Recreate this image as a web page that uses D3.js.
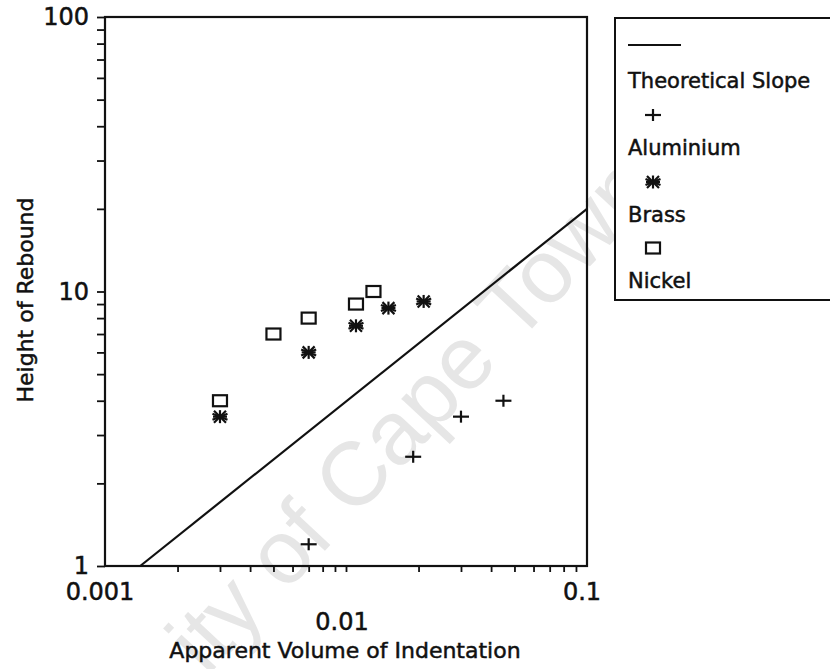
<!DOCTYPE html>
<html>
<head>
<meta charset="utf-8">
<script src="https://cdn.jsdelivr.net/npm/d3@7"></script>
<style>
  body { margin: 0; background: #fff; }
  svg { display: block; font-family: "DejaVu Sans", sans-serif; }
  .ink { fill: #111; stroke: #111; stroke-width: 0.5px; }
</style>
</head>
<body>
<div id="chart"></div>
<script>
// values
const alumX = [0.007, 0.019, 0.030, 0.045];
const alumY = [1.2, 2.5, 3.5, 4.0];
const brassX = [0.003, 0.007, 0.011, 0.015, 0.021];
const brassY = [3.5, 6.0, 7.5, 8.7, 9.2];
const nickelX = [0.003, 0.005, 0.007, 0.011, 0.013];
const nickelY = [4.0, 7.0, 8.0, 9.0, 10.0];
const slopeX = [0.0014, 0.1];
const slopeY = [1, 20];
const xTickLabels = ['0.001', '0.01', '0.1'];
const yTickLabels = ['1', '10', '100'];
const legendNames = ['Theoretical Slope', 'Aluminium', 'Brass', 'Nickel'];

const W = 830, H = 669;
const marginLeft = 105, marginTop = 17, plotW = 482, plotH = 549;

const svg = d3.select('#chart').append('svg')
  .attr('width', W).attr('height', H);

// faint scan watermark (only the part that shows on the page)
const wmText = 'ity of Cape Town';
const wmSize = 90, wmAngle = -47;
const wm = svg.append('g');
const wmNode = wm.append('text')
  .style('font-family', '"Liberation Sans", Arial, sans-serif')
  .style('font-size', wmSize + 'px')
  .attr('fill', '#e6e6e6')
  .text(wmText).node();
{
  // put the centre of the "C" of Cape where the scan shows it
  const iC = wmText.indexOf('C');
  const cx = (wmNode.getStartPositionOfChar(iC).x + wmNode.getEndPositionOfChar(iC).x) / 2;
  const cy = -0.36 * wmSize;
  const a = wmAngle * Math.PI / 180;
  const rx = cx * Math.cos(a) - cy * Math.sin(a);
  const ry = cx * Math.sin(a) + cy * Math.cos(a);
  wm.attr('transform', `translate(${352 - rx},${474 - ry}) rotate(${wmAngle})`);
}

const x = d3.scaleLog().domain([0.001, 0.1]).range([0, plotW]);
const y = d3.scaleLog().domain([1, 100]).range([plotH, 0]);

const g = svg.append('g').attr('transform', `translate(${marginLeft},${marginTop})`);

// minor ticks
const xMinor = [], yMinor = [];
[0.001, 0.01].forEach(d => { for (let k = 2; k <= 9; k++) xMinor.push(d * k); });
[1, 10].forEach(d => { for (let k = 2; k <= 9; k++) yMinor.push(d * k); });

const xAxis = g.append('g').attr('transform', `translate(0,${plotH})`)
  .call(d3.axisBottom(x).tickValues(xMinor.concat([0.01])).tickSize(6).tickFormat(''));
const yAxis = g.append('g')
  .call(d3.axisLeft(y).tickValues(yMinor.concat([1, 10, 100])).tickSize(8).tickFormat(''));
[xAxis, yAxis].forEach(a => {
  a.select('.domain').remove();
  a.selectAll('line').attr('stroke', '#111').attr('stroke-width', 1.8);
});

// frame
g.append('rect').attr('width', plotW).attr('height', plotH)
  .attr('fill', 'none').attr('stroke', '#111').attr('stroke-width', 2.2);

// tick labels
const labFont = '24px';
g.selectAll('.ylab').data(yTickLabels).enter().append('text')
  .attr('class', 'ink')
  .attr('x', -16).attr('y', d => y(+d) + 8)
  .attr('text-anchor', 'end').style('font-size', labFont)
  .text(d => d);
g.selectAll('.xlab').data(xTickLabels).enter().append('text')
  .attr('class', 'ink')
  .attr('x', d => x(+d) - (d === '0.01' ? 4 : 5))
  .attr('y', (d, i) => i === 1 ? plotH + 64 : plotH + 34)
  .attr('text-anchor', 'middle').style('font-size', labFont)
  .text(d => d);

// axis titles
svg.append('text').attr('class', 'ink')
  .attr('x', 345).attr('y', 658)
  .attr('text-anchor', 'middle').style('font-size', '22px')
  .text('Apparent Volume of Indentation');
svg.append('text').attr('class', 'ink')
  .attr('transform', 'translate(33,300) rotate(-90)')
  .attr('text-anchor', 'middle').style('font-size', '22px')
  .text('Height of Rebound');

// theoretical slope line
const line = d3.line().x(d => x(d[0])).y(d => y(d[1]));
g.append('path')
  .datum(slopeX.map((v, i) => [v, slopeY[i]]))
  .attr('d', line).attr('fill', 'none').attr('stroke', '#111').attr('stroke-width', 2.2);

// marker drawers
function plus(sel) {
  sel.append('line').attr('x1', -8).attr('x2', 8).attr('y1', 0).attr('y2', 0);
  sel.append('line').attr('x1', 0).attr('x2', 0).attr('y1', -6).attr('y2', 6);
}
function star(sel) {
  sel.append('line').attr('x1', -7).attr('x2', 7).attr('y1', 0).attr('y2', 0);
  sel.append('line').attr('x1', 0).attr('x2', 0).attr('y1', -6.5).attr('y2', 6.5);
  sel.append('line').attr('x1', -6).attr('x2', 6).attr('y1', -6).attr('y2', 6);
  sel.append('line').attr('x1', -6).attr('x2', 6).attr('y1', 6).attr('y2', -6);
  sel.append('line').attr('x1', -7.5).attr('x2', 7.5).attr('y1', -3).attr('y2', 3);
  sel.append('line').attr('x1', -7.5).attr('x2', 7.5).attr('y1', 3).attr('y2', -3);
}
function box(sel) {
  sel.append('rect').attr('x', -7).attr('y', -5.5).attr('width', 14).attr('height', 11)
    .attr('fill', 'none');
}

function series(xs, ys, draw) {
  g.append('g').selectAll('g').data(xs.map((v, i) => [v, ys[i]])).enter().append('g')
    .attr('transform', d => `translate(${x(d[0])},${y(d[1])})`)
    .attr('stroke', '#111').attr('stroke-width', 2.2)
    .each(function () { draw(d3.select(this)); });
}
series(alumX, alumY, plus);
series(brassX, brassY, star);
series(nickelX, nickelY, box);

// legend
const lg = svg.append('g').attr('transform', 'translate(615,18)');
lg.append('rect').attr('width', 240).attr('height', 282)
  .attr('fill', '#fff').attr('stroke', '#111').attr('stroke-width', 2);
lg.append('line').attr('x1', 13).attr('x2', 66).attr('y1', 27).attr('y2', 27)
  .attr('stroke', '#111').attr('stroke-width', 2);
const symbols = [null, plus, star, box];
const symY = [27, 97, 164, 230];
const textY = [70, 137, 204, 270];
legendNames.forEach((name, i) => {
  if (symbols[i]) {
    const s = lg.append('g').attr('transform', `translate(38,${symY[i]})`)
      .attr('stroke', '#111').attr('stroke-width', 2.2);
    symbols[i](s);
  }
  lg.append('text').attr('class', 'ink').attr('x', 13).attr('y', textY[i])
    .style('font-size', '21px').text(name);
});
</script>
</body>
</html>
